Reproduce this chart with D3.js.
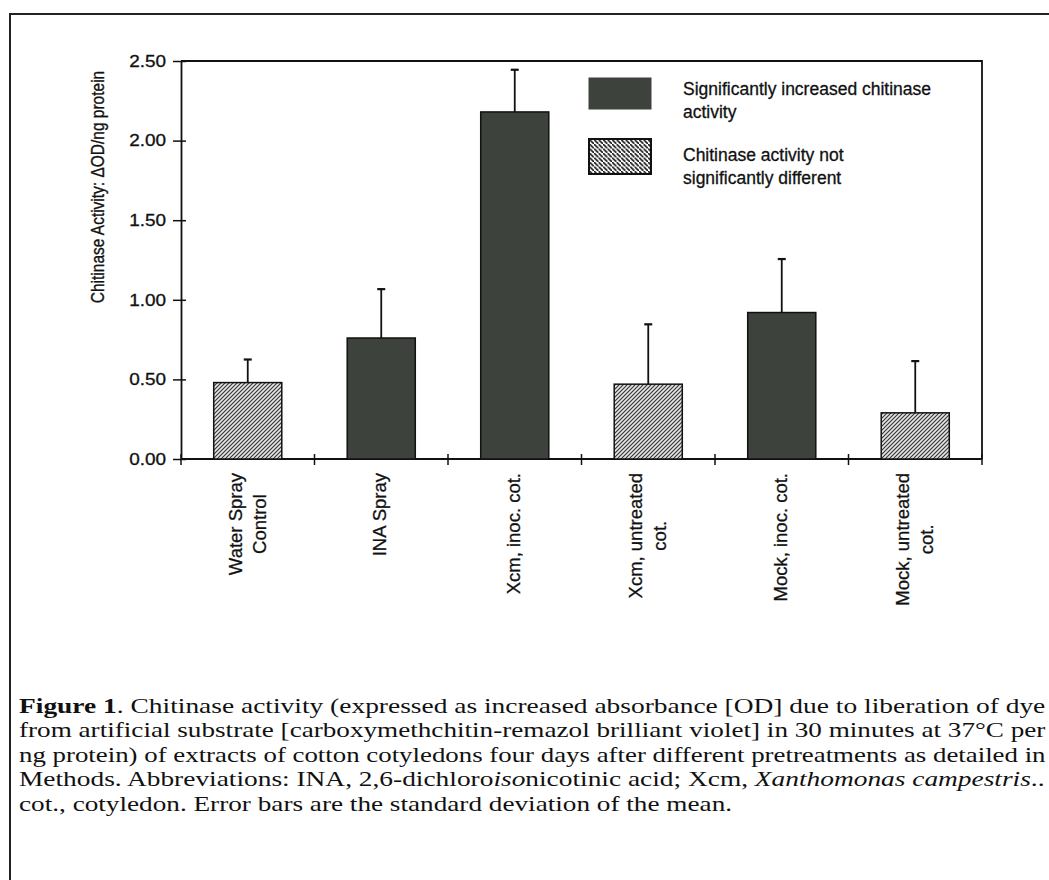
<!DOCTYPE html>
<html>
<head>
<meta charset="utf-8">
<script src="https://cdn.jsdelivr.net/npm/d3@7"></script>
<style>
  body { margin: 0; background: #fff; }
  svg { display: block; }
</style>
</head>
<body>
<svg id="chart" width="1049" height="880"></svg>
<script>
// data
let categories = ["Water Spray Control", "INA Spray", "Xcm, inoc. cot.", "Xcm, untreated cot.", "Mock, inoc. cot.", "Mock, untreated cot."]
let labelLines = [["Water Spray", "Control"], ["INA Spray"], ["Xcm, inoc. cot."], ["Xcm, untreated", "cot."], ["Mock, inoc. cot."], ["Mock, untreated", "cot."]]
let means = [0.48, 0.76, 2.18, 0.47, 0.92, 0.29]
let sds = [0.145, 0.307, 0.265, 0.376, 0.336, 0.325]
let significant = [false, true, true, false, true, false]
let yTicks = [0, 0.5, 1.0, 1.5, 2.0, 2.5]
let legendItems = [
    {lines: ["Significantly increased chitinase", "activity"], sig: true},
    {lines: ["Chitinase activity not", "significantly different"], sig: false}
]
let captionLines = [
    [["Figure 1", "b"], [". Chitinase activity (expressed as increased absorbance [OD] due to liberation of dye", ""]],
    [["from artificial substrate [carboxymethchitin-remazol brilliant violet] in 30 minutes at 37°C per", ""]],
    [["ng protein) of extracts of cotton cotyledons four days after different pretreatments as detailed in", ""]],
    [["Methods. Abbreviations: INA, 2,6-dichloro", ""], ["iso", "i"], ["nicotinic acid; Xcm, ", ""], ["Xanthomonas campestris", "i"], ["..", ""]],
    [["cot., cotyledon. Error bars are the standard deviation of the mean.", ""]]
]

let svg = d3.select("#chart")
let dark = "#3e423d"
let sans = "Liberation Sans, Arial, sans-serif"

let defs = svg.append("defs")
let barHatch = defs.append("pattern")
    .attr("id", "barHatch")
    .attr("patternUnits", "userSpaceOnUse")
    .attr("width", 4).attr("height", 4)
barHatch.append("rect").attr("width", 4).attr("height", 4).attr("fill", "#e4e4e4")
barHatch.append("path")
    .attr("d", "M-1,1 l2,-2 M0,4 l4,-4 M3,5 l2,-2")
    .attr("stroke", "#333").attr("stroke-width", 1.1)

let legHatch = defs.append("pattern")
    .attr("id", "legHatch")
    .attr("patternUnits", "userSpaceOnUse")
    .attr("width", 4.5).attr("height", 4.5)
legHatch.append("rect").attr("width", 4.5).attr("height", 4.5).attr("fill", "#fff")
legHatch.append("path")
    .attr("d", "M-1,-1 l2,2 M0,0 l4.5,4.5 M3.5,3.5 l2,2")
    .attr("stroke", "#111").attr("stroke-width", 1.6)

// page frame
svg.append("path")
   .attr("d", "M10,880 V14 H1049")
   .attr("fill", "none").attr("stroke", "#222").attr("stroke-width", 2)

let plotLeft = 181, plotRight = 982, plotTop = 61, plotBottom = 459

let x = d3.scaleBand().domain(categories).range([plotLeft, plotRight]).padding(0)
let y = d3.scaleLinear().domain([0, 2.5]).range([plotBottom, plotTop])
let barW = x.bandwidth() * 0.51

// plot box top and right
svg.append("path")
   .attr("d", `M${plotLeft},${plotTop} H${plotRight} V${plotBottom}`)
   .attr("fill", "none").attr("stroke", "#111").attr("stroke-width", 1.8)

// y axis
let yAxis = svg.append("g")
    .attr("transform", `translate(${plotLeft},0)`)
    .call(d3.axisLeft(y).tickValues(yTicks).tickFormat(d3.format(".2f")).tickSizeInner(8).tickSizeOuter(0).tickPadding(5))
yAxis.select(".domain").attr("stroke", "#111").attr("stroke-width", 1.8)
yAxis.selectAll(".tick line").attr("stroke", "#111").attr("stroke-width", 1.5).attr("x2", -8).attr("x1", 5)
yAxis.selectAll(".tick text")
     .attr("font-family", sans)
     .attr("font-size", 16.5).attr("fill", "#111")
     .attr("stroke", "#111").attr("stroke-width", 0.3)
     .attr("transform", "scale(1.15,1)")

// x axis with ticks between categories
let xAxis = svg.append("g")
    .attr("transform", `translate(0,${plotBottom})`)
xAxis.append("line")
     .attr("x1", plotLeft).attr("x2", plotRight)
     .attr("stroke", "#111").attr("stroke-width", 1.8)
let boundaries = categories.map(c => x(c)).concat([x(categories[categories.length - 1]) + x.bandwidth()])
xAxis.selectAll(".xt")
     .data(boundaries)
     .enter()
     .append("line")
     .attr("class", "xt")
     .attr("x1", d => d).attr("x2", d => d)
     .attr("y1", -5).attr("y2", 6)
     .attr("stroke", "#111").attr("stroke-width", 1.5)

// bars
let barData = categories.map((c, i) => ({cat: c, mean: means[i], sd: sds[i], sig: significant[i]}))
svg.selectAll(".bar")
   .data(barData)
   .enter()
   .append("rect")
   .attr("class", "bar")
   .attr("x", d => x(d.cat) + (x.bandwidth() - barW) / 2)
   .attr("width", barW)
   .attr("y", d => y(d.mean))
   .attr("height", d => y(0) - y(d.mean))
   .attr("fill", d => d.sig ? dark : "url(#barHatch)")
   .attr("stroke", "#111")
   .attr("stroke-width", 1.5)

// error bars (upper only)
let err = svg.selectAll(".err")
    .data(barData)
    .enter()
    .append("g")
    .attr("class", "err")
    .attr("transform", d => `translate(${x(d.cat) + x.bandwidth() / 2},0)`)
err.append("line")
   .attr("y1", d => y(d.mean)).attr("y2", d => y(d.mean + d.sd))
   .attr("stroke", "#111").attr("stroke-width", 1.8)
err.append("line")
   .attr("x1", -4).attr("x2", 4)
   .attr("y1", d => y(d.mean + d.sd)).attr("y2", d => y(d.mean + d.sd))
   .attr("stroke", "#111").attr("stroke-width", 2.2)

// rotated category labels
let labelTop = 473
labelLines.forEach((lines, i) => {
    let cx = x(categories[i]) + x.bandwidth() / 2
    let g = svg.append("g")
    let texts = lines.map((t, j) => g.append("text")
        .text(t)
        .attr("font-family", sans)
        .attr("font-size", 18.5).attr("fill", "#111")
        .attr("stroke", "#111").attr("stroke-width", 0.3))
    let w = d3.max(texts, t => t.node().getComputedTextLength())
    texts.forEach((t, j) => {
        let bx = cx + 5 - (lines.length - 1) * 11 + j * 24
        t.attr("text-anchor", "middle")
         .attr("transform", `translate(${bx},${labelTop + w / 2}) rotate(-90)`)
    })
})

// y axis title
svg.append("text")
   .attr("transform", `translate(104,187) scale(1.15,1) rotate(-90)`)
   .attr("text-anchor", "middle")
   .attr("font-family", sans)
   .attr("font-size", 15.5).attr("fill", "#111")
   .attr("stroke", "#111").attr("stroke-width", 0.3)
   .text("Chitinase Activity: ΔOD/ng protein")

// legend
legendItems.forEach((item, i) => {
    let by = [78, 139][i], bh = [31, 35][i]
    svg.append("rect")
       .attr("x", 589).attr("y", by).attr("width", 62).attr("height", bh)
       .attr("fill", item.sig ? dark : "url(#legHatch)")
       .attr("stroke", item.sig ? dark : "#111")
       .attr("stroke-width", item.sig ? 1 : 2)
    item.lines.forEach((t, j) => {
        svg.append("text")
           .attr("x", 683).attr("y", [95, 161][i] + j * 23)
           .attr("font-family", sans)
           .attr("font-size", 17.5).attr("fill", "#111")
           .attr("stroke", "#111").attr("stroke-width", 0.3)
           .text(t)
    })
})

// caption
let capX = 19
let capTargets = [1027, 1027, 1027, 1026, null]
let capScales = []
captionLines.forEach((parts, i) => {
    let t = svg.append("text")
        .attr("font-family", "Liberation Serif, Times New Roman, serif")
        .attr("font-size", 21).attr("fill", "#111")
        .attr("transform", `translate(${capX},${713 + i * 24.4})`)
    parts.forEach(p => {
        t.append("tspan")
         .text(p[0])
         .attr("font-weight", p[1] === "b" ? "bold" : null)
         .attr("font-style", p[1] === "i" ? "italic" : null)
    })
    let len = t.node().getComputedTextLength()
    let sx = capTargets[i] ? capTargets[i] / len : d3.mean(capScales)
    capScales.push(sx)
    t.attr("transform", `translate(${capX},${713 + i * 24.4}) scale(${sx},1)`)
})
</script>
</body>
</html>
